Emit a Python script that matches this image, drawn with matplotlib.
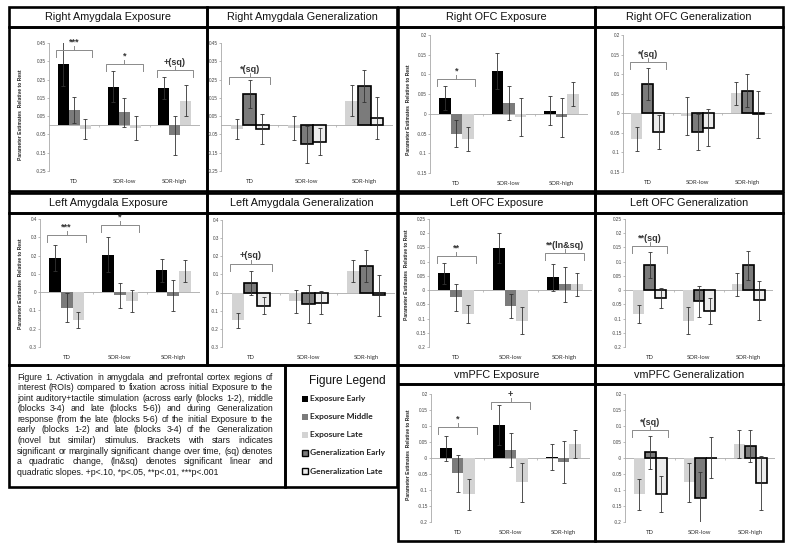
import numpy as np
import matplotlib.pyplot as plt
from matplotlib.patches import Rectangle

W, H = 790, 548
groups = ['TD', 'SOR-low', 'SOR-high']

# --- data (rows: bar series, cols: TD, SOR-low, SOR-high) ---
r_amy_exp = [[0.335, 0.21, 0.205], [0.085, 0.07, -0.055], [-0.02, -0.015, 0.135]]
r_amy_exp_err = [[0.12, 0.085, 0.06], [0.07, 0.08, 0.105], [0.055, 0.065, 0.085]]
r_amy_gen = [[-0.02, -0.015, 0.135], [0.17, -0.105, 0.215], [-0.02, -0.09, 0.04]]
r_amy_gen_err = [[0.055, 0.065, 0.085], [0.075, 0.1, 0.088], [0.08, 0.075, 0.115]]

r_ofc_exp = [[0.04, 0.109, 0.008], [-0.05, 0.027, -0.009], [-0.064, -0.007, 0.051]]
r_ofc_exp_err = [[0.031, 0.046, 0.037], [0.035, 0.043, 0.05], [0.031, 0.048, 0.03]]
r_ofc_gen = [[-0.065, -0.007, 0.051], [0.075, -0.048, 0.058], [-0.048, -0.037, -0.002]]
r_ofc_gen_err = [[0.031, 0.048, 0.03], [0.04, 0.045, 0.042], [0.043, 0.047, 0.06]]

l_amy_exp = [[0.186, 0.205, 0.119], [-0.084, -0.018, -0.02], [-0.152, -0.048, 0.117]]
l_amy_exp_err = [[0.07, 0.097, 0.064], [0.078, 0.07, 0.085], [0.042, 0.062, 0.06]]
l_amy_gen = [[-0.152, -0.048, 0.117], [0.051, -0.064, 0.147], [-0.073, -0.055, -0.015]]
l_amy_gen_err = [[0.042, 0.062, 0.06], [0.067, 0.105, 0.087], [0.047, 0.065, 0.114]]

l_ofc_exp = [[0.059, 0.148, 0.045], [-0.025, -0.055, 0.02], [-0.083, -0.107, 0.02]]
l_ofc_exp_err = [[0.038, 0.053, 0.047], [0.048, 0.043, 0.061], [0.031, 0.048, 0.04]]
l_ofc_gen = [[-0.083, -0.107, 0.02], [0.087, -0.039, 0.087], [-0.027, -0.074, -0.036]]
l_ofc_gen_err = [[0.031, 0.048, 0.04], [0.046, 0.055, 0.05], [0.035, 0.046, 0.068]]

vmpfc_exp = [[0.03, 0.104, 0.003], [-0.048, 0.025, -0.012], [-0.113, -0.076, 0.044]]
vmpfc_exp_err = [[0.04, 0.062, 0.041], [0.058, 0.054, 0.065], [0.048, 0.06, 0.045]]
vmpfc_gen = [[-0.113, -0.076, 0.044], [0.018, -0.125, 0.037], [-0.112, 0.001, -0.079]]
vmpfc_gen_err = [[0.048, 0.06, 0.045], [0.051, 0.082, 0.05], [0.056, 0.064, 0.084]]

# significance brackets: (group index, bracket height, label)
r_amy_exp_sig = [(0, 0.413, '***'), (1, 0.335, '*'), (2, 0.30, '+(sq)')]
r_amy_gen_sig = [(0, 0.264, '*(sq)')]
r_ofc_exp_sig = [(0, 0.089, '*')]
r_ofc_gen_sig = [(0, 0.131, '*(sq)')]
l_amy_exp_sig = [(0, 0.314, '***'), (1, 0.369, '*')]
l_amy_gen_sig = [(0, 0.158, '+(sq)')]
l_ofc_exp_sig = [(0, 0.121, '**'), (2, 0.130, '**(ln&sq)')]
l_ofc_gen_sig = [(0, 0.155, '**(sq)')]
vmpfc_exp_sig = [(0, 0.096, '*'), (1, 0.174, '+')]
vmpfc_gen_sig = [(0, 0.087, '*(sq)')]

legend_labels = ['Exposure Early', 'Exposure Middle', 'Exposure Late',
                 'Generalization Early', 'Generalization Late']

caption = [
    "Figure 1. Activation in amygdala and prefrontal cortex regions of",
    "interest (ROIs) compared to fixation across initial Exposure to the",
    "joint auditory+tactile stimulation (across early (blocks 1-2), middle",
    "(blocks 3-4) and late (blocks 5-6)) and during Generalization",
    "response (from the late (blocks 5-6) of the initial Exposure to the",
    "early (blocks 1-2) and late (blocks 3-4) of the Generalization",
    "(novel but similar) stimulus. Brackets with stars indicates",
    "significant or marginally significant change over time, (sq) denotes",
    "a quadratic change, (ln&sq) denotes significant linear and",
    "quadratic slopes. +p<.10, *p<.05, **p<.01, ***p<.001",
]

# styles: (fill, edge, edge width)
BLACK = ('#000000', 'none', 0)
MID = ('#7b7b7b', 'none', 0)
LIGHT = ('#d3d3d3', 'none', 0)
GEN_E = ('#7b7b7b', '#000000', 1.2)
GEN_L = ('#ececec', '#000000', 1.2)
exp_styles = [BLACK, MID, LIGHT]
gen_styles = [LIGHT, GEN_E, GEN_L]

ARIAL = ['Liberation Sans', 'DejaVu Sans']
CALIBRI = ['Lato', 'DejaVu Sans']

fig = plt.figure(figsize=(W / 100, H / 100), dpi=100)
bg = fig.add_axes([0, 0, 1, 1])
bg.set_xlim(0, W)
bg.set_ylim(H, 0)
bg.axis('off')


def box(x0, y0, x1, y1):
    bg.add_patch(Rectangle((x0, y0), x1 - x0, y1 - y0, fill=False, lw=1.9, ec='black'))


def px_axes(x0, y0, x1, y1):
    return fig.add_axes([x0 / W, 1 - y1 / H, (x1 - x0) / W, (y1 - y0) / H])


def draw_panel(rect, series, errs, styles, ylim, step, sigs):
    ax = px_axes(*rect)
    ax.patch.set_alpha(0)
    x = np.arange(3)
    w = 0.22
    for i, (vals, err, st) in enumerate(zip(series, errs, styles)):
        ax.bar(x + (i - 1) * w, vals, w, yerr=err, color=st[0], edgecolor=st[1],
               linewidth=st[2], zorder=2,
               error_kw=dict(elinewidth=0.6, capsize=1.4, capthick=0.6, ecolor='#333333', zorder=3))
    ax.set_xlim(-0.5, 2.5)
    ax.set_ylim(*ylim)
    ticks = np.round(np.arange(ylim[0], ylim[1] + 1e-6, step), 3)
    ax.set_yticks(ticks)
    ax.set_yticklabels([f'{t:g}' for t in ticks], fontsize=3.3, color='#404040', family=ARIAL)
    ax.set_xticks(x)
    ax.set_xticklabels(groups, fontsize=4.3, color='#303030', family=CALIBRI)
    ax.tick_params(axis='x', length=0, pad=6)
    ax.tick_params(axis='y', length=1.5, width=0.5, color='#a0a0a0', pad=0.8)
    for s in ['top', 'right', 'bottom']:
        ax.spines[s].set_visible(False)
    ax.spines['left'].set_color('#a8a8a8')
    ax.spines['left'].set_linewidth(0.6)
    ax.axhline(0, color='#a8a8a8', lw=0.6, zorder=1)
    ppu = (rect[3] - rect[1]) / (ylim[1] - ylim[0])
    ax.vlines([0.5, 1.5], -2 / ppu, 0, color='#a8a8a8', lw=0.5)
    for g, yb, label in sigs:
        hook, mid = 7 / ppu, 4 / ppu
        x0, x1 = g - 0.36, g + 0.36
        ax.plot([x0, x0, x1, x1], [yb - hook, yb, yb, yb - hook], color='#8a8a8a',
                lw=0.7, clip_on=False, zorder=4)
        ax.plot([g, g], [yb, yb + mid], color='#8a8a8a', lw=0.7, clip_on=False, zorder=4)
        ax.text(g, yb + mid + 1.5 / ppu, label, ha='center', va='baseline', fontsize=6.5,
                fontweight='bold', color='#333333', family=ARIAL, clip_on=False)
    return ax


# panel frames
cols = [(9, 207), (207, 397), (398, 595), (595, 783)]
for (x0, x1) in cols:
    box(x0, 7, x1, 27)
    box(x0, 27, x1, 191)
    box(x0, 193, x1, 213)
    box(x0, 213, x1, 365)
for (x0, x1) in cols[2:]:
    box(x0, 365, x1, 384)
    box(x0, 384, x1, 541)
box(9, 365, 285, 487)
box(285, 365, 397, 487)

titles = [
    ('Right Amygdala Exposure', 0, 17), ('Right Amygdala Generalization', 1, 17),
    ('Right OFC Exposure', 2, 17), ('Right OFC Generalization', 3, 17),
    ('Left Amygdala Exposure', 0, 203), ('Left Amygdala Generalization', 1, 203),
    ('Left OFC Exposure', 2, 203), ('Left OFC Generalization', 3, 203),
    ('vmPFC Exposure', 2, 374.5), ('vmPFC Generalization', 3, 374.5),
]
for t, c, y in titles:
    bg.text((cols[c][0] + cols[c][1]) / 2, y, t, ha='center', va='center',
            fontsize=7.8, family=ARIAL, color='#111111')

# panels
draw_panel((49, 43, 200, 171), r_amy_exp, r_amy_exp_err, exp_styles, (-0.25, 0.45), 0.1, r_amy_exp_sig)
draw_panel((221, 43, 393, 171), r_amy_gen, r_amy_gen_err, gen_styles, (-0.25, 0.45), 0.1, r_amy_gen_sig)
draw_panel((430, 35, 588, 173), r_ofc_exp, r_ofc_exp_err, exp_styles, (-0.15, 0.2), 0.05, r_ofc_exp_sig)
draw_panel((623, 35, 772, 172), r_ofc_gen, r_ofc_gen_err, gen_styles, (-0.15, 0.2), 0.05, r_ofc_gen_sig)
draw_panel((40, 219, 200, 347), l_amy_exp, l_amy_exp_err, exp_styles, (-0.3, 0.4), 0.1, l_amy_exp_sig)
draw_panel((222, 220, 395, 347), l_amy_gen, l_amy_gen_err, gen_styles, (-0.3, 0.4), 0.1, l_amy_gen_sig)
draw_panel((429, 219, 592, 347), l_ofc_exp, l_ofc_exp_err, exp_styles, (-0.2, 0.25), 0.05, l_ofc_exp_sig)
draw_panel((625, 219, 773, 347), l_ofc_gen, l_ofc_gen_err, gen_styles, (-0.2, 0.25), 0.05, l_ofc_gen_sig)
draw_panel((431, 394, 590, 522), vmpfc_exp, vmpfc_exp_err, exp_styles, (-0.2, 0.2), 0.05, vmpfc_exp_sig)
draw_panel((625, 394, 775, 522), vmpfc_gen, vmpfc_gen_err, gen_styles, (-0.2, 0.2), 0.05, vmpfc_gen_sig)

# y labels on exposure panels
for x, y in [(21, 115), (408, 110), (21, 284), (407, 275), (409, 455)]:
    bg.text(x, y, 'Parameter Estimates  Relative to Rest', rotation=90, ha='center',
            va='center', fontsize=3.6, fontweight='bold', family=ARIAL, color='#222222')

# caption, justified
renderer = fig.canvas.get_renderer()
cx0, cx1, cy0, cdy = 17, 273, 377, 10.6
for k, line in enumerate(caption):
    y = cy0 + k * cdy
    kw = dict(ha='left', va='center', fontsize=6.3, family=ARIAL, color='#1a1a1a')
    if k == len(caption) - 1:
        bg.text(cx0, y, line, **kw)
        continue
    words = line.split()
    ts = [bg.text(0, y, wd, **kw) for wd in words]
    widths = [t.get_window_extent(renderer).width for t in ts]
    gap = (cx1 - cx0 - sum(widths)) / (len(words) - 1)
    xx = cx0
    for t, wd in zip(ts, widths):
        t.set_x(xx)
        xx += wd + gap

# legend box
bg.text(347, 381, 'Figure Legend', ha='center', va='center', fontsize=8.6, family=ARIAL, color='#111111')
for k, (lab, st) in enumerate(zip(legend_labels, [BLACK, MID, LIGHT, GEN_E, GEN_L])):
    y = 399 + k * 18
    ec = st[1] if st[1] != 'none' else st[0]
    bg.add_patch(Rectangle((302, y - 3), 6, 6, fc=st[0], ec=ec, lw=1.0 if st[2] else 0))
    bg.text(310, y, lab, ha='left', va='center', fontsize=6.0, fontweight='bold',
            family=CALIBRI, color='#222222')

fig.savefig('out.png', dpi=100)
